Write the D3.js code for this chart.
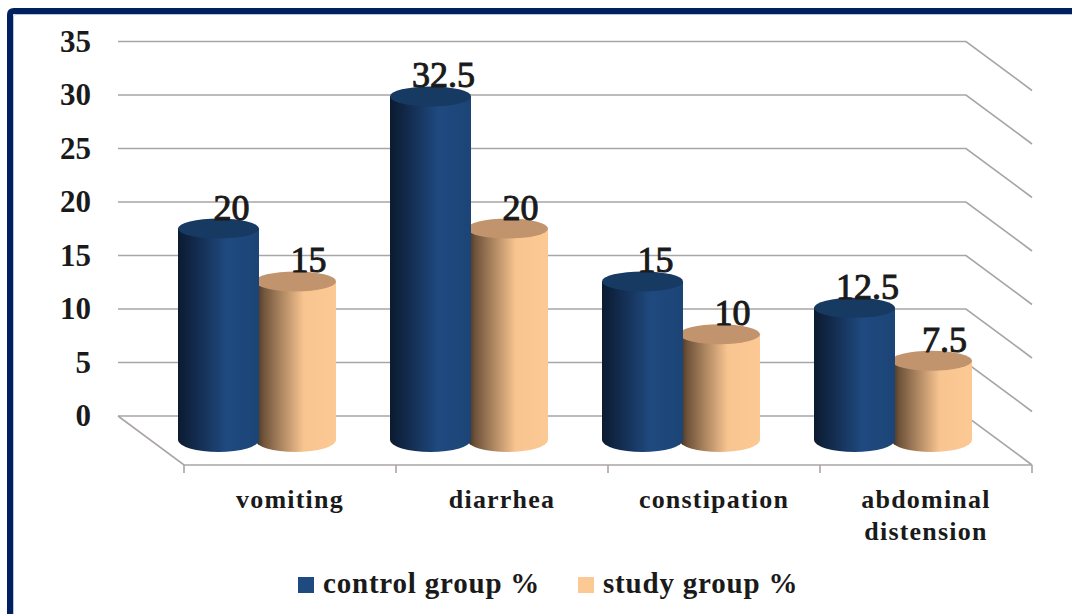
<!DOCTYPE html>
<html>
<head>
<meta charset="utf-8">
<script src="https://cdn.jsdelivr.net/npm/d3@7"></script>
<style>
  body { margin: 0; background: #fff; }
  text { font-family: "Liberation Serif", serif; fill: #1a1a1a; }
</style>
</head>
<body>
<div id="chart"></div>
<script>
const categories = ['vomiting', 'diarrhea', 'constipation', 'abdominal distension'];
const seriesNames = ['control group %', 'study group %'];
const controlValues = [20, 32.5, 15, 12.5];
const studyValues = [15, 20, 10, 7.5];
const yTickValues = [0, 5, 10, 15, 20, 25, 30, 35];

const WIDTH = 1072;
const HEIGHT = 614;

// corners of the fake 3d box
const BACK = { left: 118, right: 966, top: 41.5, bottom: 416 };
const DEPTH = { x: 66, y: 49 };
const BAR_WIDTH = 81;
const BAR_RY = 10;

const svg = d3.select('#chart')
    .append('svg')
        .attr('width', WIDTH)
        .attr('height', HEIGHT)
        .style('display', 'block');

const defs = svg.append('defs');

function sideGradient(id, stops) {
    const gradient = defs.append('linearGradient').attr('id', id);
    stops.forEach(function (stop) {
        gradient.append('stop')
            .attr('offset', stop[0])
            .attr('stop-color', stop[1]);
    });
}

sideGradient('side0', [[0, '#0b1b30'], [0.2, '#12294a'], [0.6, '#1f4a80'], [1, '#1c4476']]);
sideGradient('side1', [[0, '#3c2c1e'], [0.1, '#6f533a'], [0.6, '#f8c490'], [1, '#fcc894']]);

// frame, with the pale edge on its inner side
svg.append('path')
    .attr('d', 'M13.5,614 V17 Q13.5,14.5 16,14.5 H1072')
    .attr('fill', 'none')
    .attr('stroke', '#b4c6e0')
    .attr('stroke-width', 1);

svg.append('path')
    .attr('d', 'M10,614 V15 Q10,11 14,11 H1072')
    .attr('fill', 'none')
    .attr('stroke', '#002060')
    .attr('stroke-width', 6);

// scales
const y = d3.scaleLinear()
    .domain([0, 35])
    .range([BACK.bottom, BACK.top]);

const xFront = d3.scaleBand()
    .domain(categories)
    .range([BACK.left + DEPTH.x, BACK.right + DEPTH.x]);

// bars stand half way between the back wall and the front edge
const xBars = d3.scaleBand()
    .domain(categories)
    .range([BACK.left + DEPTH.x / 2, BACK.right + DEPTH.x / 2])
    .paddingInner(54 / 212)
    .paddingOuter(27 / 212);

const xSeries = d3.scalePoint()
    .domain(seriesNames)
    .range([BAR_WIDTH / 2, xBars.bandwidth() - BAR_WIDTH / 2]);

const barY = d3.scaleLinear()
    .domain([0, 35])
    .range([440, 70]);

// walls and floor
const grid = svg.append('g')
    .attr('fill', 'none')
    .attr('stroke', '#aaa5a5')
    .attr('stroke-width', 1.6);

grid.selectAll('path.grid')
    .data(yTickValues)
    .join('path')
        .attr('class', 'grid')
        .attr('d', function (d) {
            return 'M' + BACK.left + ',' + y(d)
                + 'H' + BACK.right
                + 'l' + DEPTH.x + ',' + DEPTH.y;
        });

const floorPath = d3.path();
floorPath.moveTo(BACK.left, y(0));
floorPath.lineTo(BACK.left + DEPTH.x, y(0) + DEPTH.y);
floorPath.lineTo(BACK.right + DEPTH.x, y(0) + DEPTH.y);
grid.append('path').attr('d', floorPath.toString());

// axes
const yAxis = d3.axisLeft(y)
    .tickValues(yTickValues)
    .tickSize(0)
    .tickPadding(0);

const yAxisGroup = svg.append('g')
    .attr('transform', 'translate(91,0)')
    .call(yAxis);
yAxisGroup.select('.domain').remove();
yAxisGroup.selectAll('text')
    .attr('font-size', 31)
    .attr('font-weight', 'bold')
    .style('font-family', '"Liberation Serif", serif')
    .style('fill', '#1a1a1a');

const xAxis = d3.axisBottom(xFront)
    .tickValues(categories)
    .tickSize(0)
    .tickPadding(0)
    .tickFormat('');

const xAxisGroup = svg.append('g')
    .attr('transform', 'translate(0,' + (y(0) + DEPTH.y) + ')')
    .call(xAxis);
xAxisGroup.select('.domain').remove();
xAxisGroup.selectAll('.tick text').remove();

// tick marks sit between the categories
svg.append('g')
    .attr('stroke', '#aaa5a5')
    .attr('stroke-width', 1.6)
    .selectAll('line')
    .data(categories.concat(['end']))
    .join('line')
        .attr('x1', (d, i) => xFront.range()[0] + i * xFront.step())
        .attr('x2', (d, i) => xFront.range()[0] + i * xFront.step())
        .attr('y1', y(0) + DEPTH.y)
        .attr('y2', y(0) + DEPTH.y + 8);

const xLabels = svg.append('g')
    .selectAll('text')
    .data(categories)
    .join('text')
        .attr('text-anchor', 'middle')
        .attr('font-size', 26)
        .attr('font-weight', 'bold')
        .attr('letter-spacing', 1.2)
        .attr('y', 508);

xLabels.each(function (d) {
    const label = d3.select(this);
    const cx = xFront(d) + xFront.bandwidth() / 2;
    const lines = d.split(' ');
    lines.forEach(function (line, i) {
        label.append('tspan')
            .attr('x', cx)
            .attr('dy', i === 0 ? 0 : 32)
            .text(line);
    });
});

// cylinders, study group first so the control group overlaps it
function drawCylinders(name, values, index) {
    const group = svg.append('g');

    categories.forEach(function (category, i) {
        const cx = xBars(category) + xSeries(name);
        const rx = BAR_WIDTH / 2;
        const top = barY(values[i]);
        const base = barY(0);

        group.append('path')
            .attr('fill', 'url(#side' + index + ')')
            .attr('d', 'M' + (cx - rx) + ',' + top
                + 'V' + base
                + 'A' + rx + ',' + (BAR_RY + 2) + ' 0 0 0 ' + (cx + rx) + ',' + base
                + 'V' + top
                + 'Z');

        group.append('ellipse')
            .attr('cx', cx)
            .attr('cy', top)
            .attr('rx', rx)
            .attr('ry', BAR_RY)
            .attr('fill', index === 0 ? '#173a63' : '#c1946d');
    });
}

function drawValueLabels(name, values) {
    svg.append('g')
        .selectAll('text')
        .data(values)
        .join('text')
            .attr('text-anchor', 'middle')
            .attr('font-size', 36)
            .attr('stroke', '#1a1a1a')
            .attr('stroke-width', 1)
            .attr('x', (d, i) => xBars(categories[i]) + xSeries(name) + 13)
            .attr('y', (d) => barY(d) - 9)
            .text((d) => d);
}

drawCylinders(seriesNames[1], studyValues, 1);
drawCylinders(seriesNames[0], controlValues, 0);
drawValueLabels(seriesNames[1], studyValues);
drawValueLabels(seriesNames[0], controlValues);

// legend
const legendColors = ['#1f4a80', '#fcc894'];
const legendX = d3.scaleOrdinal()
    .domain(seriesNames)
    .range([298, 578]);

const legend = svg.append('g')
    .selectAll('g')
    .data(seriesNames)
    .join('g')
        .attr('transform', (d) => 'translate(' + legendX(d) + ',577)');

legend.append('rect')
    .attr('width', 16)
    .attr('height', 16)
    .attr('fill', (d, i) => legendColors[i]);

legend.append('text')
    .attr('x', 25)
    .attr('y', 16)
    .attr('font-size', 29)
    .attr('font-weight', 'bold')
    .attr('letter-spacing', 0.8)
    .text((d) => d);
</script>
</body>
</html>
